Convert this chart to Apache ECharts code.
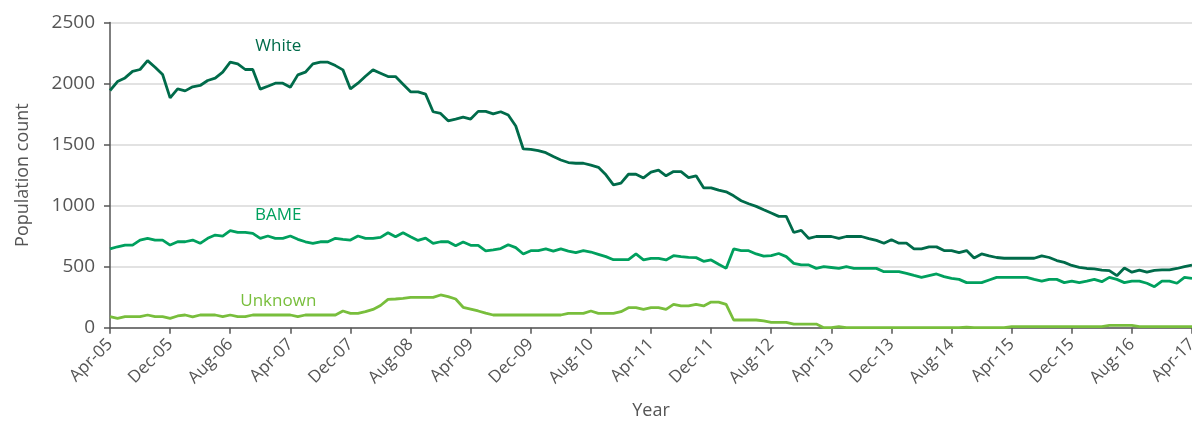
<!DOCTYPE html>
<html>
<head>
<meta charset="utf-8">
<title>Population count by ethnicity</title>
<script src="https://cdn.jsdelivr.net/npm/echarts/dist/echarts.min.js"></script>
<style>
  html, body { margin: 0; padding: 0; background: #fff; }
  #chart { width: 1192px; height: 423px; }
</style>
</head>
<body>
<div id="chart"></div>
<script>
// monthly counts, Apr-05 .. Apr-17 (145 months)
const monthNames = ['Jan', 'Feb', 'Mar', 'Apr', 'May', 'Jun', 'Jul', 'Aug', 'Sep', 'Oct', 'Nov', 'Dec'];
const categories = [];
for (let k = 0; k < 145; k++) {
  const m = (3 + k) % 12;
  const y = 5 + Math.floor((3 + k) / 12);
  categories.push(monthNames[m] + '-' + String(y).padStart(2, '0'));
}

const white = [
  1943, 2016, 2046, 2100, 2115, 2188, 2134, 2074, 1883, 1956,
  1940, 1973, 1984, 2025, 2044, 2093, 2175, 2161, 2115, 2115,
  1954, 1978, 2003, 2003, 1970, 2071, 2093, 2161, 2175, 2175,
  2147, 2112, 1956, 2003, 2060, 2112, 2085, 2057, 2057, 1995,
  1932, 1932, 1913, 1769, 1755, 1695, 1709, 1725, 1709, 1772,
  1772, 1752, 1769, 1742, 1652, 1464, 1461, 1451, 1434, 1402,
  1374, 1353, 1347, 1347, 1331, 1314, 1252, 1170, 1184, 1257,
  1257, 1227, 1274, 1290, 1244, 1279, 1279, 1230, 1244, 1146,
  1146, 1127, 1113, 1080, 1040, 1015, 994, 966, 939, 912,
  912, 780, 797, 731, 747, 747, 747, 731, 747, 747,
  747, 730, 715, 692, 720, 692, 692, 646, 646, 662,
  662, 632, 632, 615, 632, 571, 604, 588, 575, 569,
  569, 569, 569, 569, 588, 575, 550, 535, 510, 495,
  485, 482, 472, 468, 426, 489, 455, 472, 456, 470,
  473, 473, 485, 500, 512
];

const bame = [
  645, 663, 677, 677, 718, 732, 718, 718, 677, 704,
  704, 718, 691, 732, 759, 751, 795, 781, 781, 773,
  732, 751, 732, 732, 751, 724, 704, 691, 704, 704,
  732, 724, 718, 751, 732, 732, 740, 778, 745, 778,
  745, 715, 734, 690, 704, 704, 672, 702, 675, 675,
  630, 637, 648, 680, 656, 604, 631, 631, 645, 628,
  645, 628, 615, 631, 620, 601, 582, 557, 557, 557,
  604, 555, 568, 568, 555, 590, 582, 576, 574, 544,
  555, 520, 486, 645, 631, 631, 604, 587, 590, 608,
  582, 527, 514, 514, 486, 500, 493, 486, 500, 486,
  486, 486, 486, 459, 459, 459, 445, 428, 412, 426,
  440, 418, 404, 396, 369, 369, 369, 391, 412, 412,
  412, 412, 412, 396, 382, 396, 396, 369, 382, 369,
  382, 396, 377, 412, 396, 369, 382, 382, 364, 336,
  382, 382, 364, 412, 404
];

const unknown = [
  90, 77, 90, 90, 90, 104, 90, 90, 77, 96,
  104, 88, 104, 104, 104, 90, 104, 90, 90, 104,
  104, 104, 104, 104, 104, 90, 104, 104, 104, 104,
  104, 137, 118, 118, 131, 150, 182, 232, 235, 240,
  249, 249, 249, 249, 268, 255, 235, 167, 152, 137,
  120, 104, 104, 104, 104, 104, 104, 104, 104, 104,
  104, 118, 118, 118, 137, 118, 118, 118, 131, 164,
  164, 150, 164, 164, 150, 191, 178, 178, 191, 178,
  210, 210, 191, 63, 63, 63, 63, 55, 44, 44,
  44, 30, 30, 30, 30, 0, 0, 8, 0, 0,
  0, 0, 0, 0, 0, 0, 0, 0, 0, 0,
  0, 0, 0, 0, 5, 0, 0, 0, 0, 0,
  8, 8, 8, 8, 8, 8, 8, 8, 8, 8,
  8, 8, 8, 19, 19, 19, 19, 8, 8, 8,
  8, 8, 8, 8, 8
];

const seriesNames = ['White', 'BAME', 'Unknown'];
const seriesColors = ['#006b4a', '#00a05e', '#78be3c'];
// where each in-chart name sits: [category, value]
const nameAnchors = [['Feb-07', 2310], ['Feb-07', 925], ['Feb-07', 220]];

const textGrey = '#555555';
const axisGrey = '#555555';
const font = 'Open Sans';

const chart = echarts.init(document.getElementById('chart'), null, { renderer: 'canvas' });

const allData = [white, bame, unknown];
const series = allData.map((d, k) => ({
  name: seriesNames[k],
  type: 'line',
  data: d,
  showSymbol: false,
  symbol: 'none',
  lineStyle: { color: seriesColors[k], width: 2.8 },
  itemStyle: { color: seriesColors[k] },
  z: 3 - k,
  markPoint: {
    silent: true,
    symbol: 'circle',
    symbolSize: 0,
    label: {
      show: true,
      position: 'inside',
      formatter: seriesNames[k],
      color: seriesColors[k],
      fontFamily: font,
      fontSize: 17,
      offset: [3, 0]
    },
    data: [{ coord: nameAnchors[k] }]
  }
}));

chart.setOption({
  animation: false,
  backgroundColor: '#ffffff',
  textStyle: { fontFamily: font },
  grid: {
    left: 110,
    right: 0,
    top: 22.5,
    bottom: 95.3,
    containLabel: false,
    outerBoundsMode: 'none'
  },
  xAxis: {
    type: 'category',
    data: categories,
    boundaryGap: false,
    name: 'Year',
    nameLocation: 'middle',
    nameGap: 74,
    nameTextStyle: { fontSize: 18, color: textGrey, fontFamily: font },
    axisLine: { show: true, lineStyle: { color: axisGrey, width: 1.5 } },
    axisTick: { show: true, interval: 7, length: 6, lineStyle: { color: axisGrey, width: 1.5 } },
    axisLabel: { interval: 7, rotate: 45, fontSize: 17, color: textGrey, fontFamily: font, margin: 14 },
    splitLine: { show: false }
  },
  yAxis: {
    type: 'value',
    min: 0,
    max: 2500,
    interval: 500,
    name: 'Population count',
    nameLocation: 'middle',
    nameGap: 78,
    nameRotate: 90,
    nameTextStyle: { fontSize: 18, color: textGrey, fontFamily: font },
    axisLine: { show: true, lineStyle: { color: axisGrey, width: 1.5 } },
    axisTick: { show: true, length: 6, lineStyle: { color: axisGrey, width: 1.5 } },
    axisLabel: {
      fontSize: 19,
      color: textGrey,
      fontFamily: font,
      margin: 15,
      formatter: (v) => String(v)
    },
    splitLine: { show: true, lineStyle: { color: '#d9d9d9', width: 1.5 } }
  },
  series: series
});
</script>
</body>
</html>
